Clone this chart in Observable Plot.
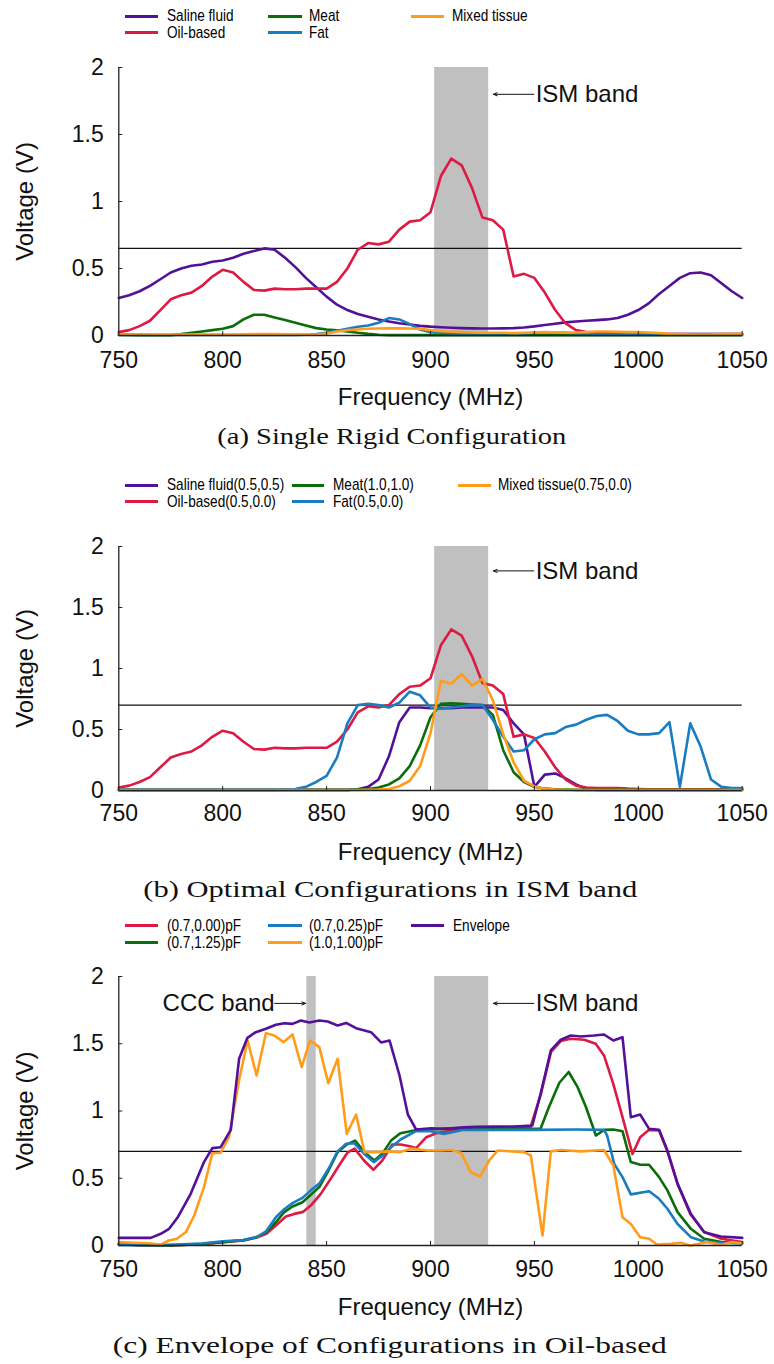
<!DOCTYPE html>
<html>
<head>
<meta charset="utf-8">
<script src="https://cdn.jsdelivr.net/npm/d3@7"></script>
<script src="https://cdn.jsdelivr.net/npm/@observablehq/plot@0.6"></script>
<style>
  html,body{margin:0;padding:0;background:#fff;}
  #root{position:relative;width:774px;height:1364px;overflow:hidden;font-family:"Liberation Sans",Arial,Helvetica,sans-serif;color:#111;}
  #root svg{position:absolute;left:0;overflow:visible;}
  .lg-text{position:absolute;line-height:14px;height:14px;white-space:nowrap;transform-origin:0 50%;color:#000;}
  .cap{position:absolute;font-family:"Liberation Serif","Times New Roman",serif;font-size:23px;line-height:26px;white-space:nowrap;transform-origin:50% 50%;color:#111;}
</style>
</head>
<body>
<div id="root"></div>
<script>
// ---------------- DATA ----------------
// Sample frequencies (MHz) for panels (a) and (b)
const freq = [750,755,760,765,770,775,780,785,790,795,
  800,805,810,815,820,825,830,835,840,845,
  850,855,860,865,870,875,880,885,890,895,
  900,905,910,915,920,925,930,935,940,945,
  950,955,960,965,970,975,980,985,990,995,
  1000,1005,1010,1015,1020,1025,1030,1035,1040,1045,
  1050];

// (a) Single Rigid Configuration — voltage (V)
const salineA = [0.28,0.30,0.33,0.37,0.42,0.47,0.50,0.52,0.53,0.55,
  0.56,0.58,0.61,0.63,0.65,0.64,0.58,0.51,0.43,0.36,
  0.29,0.23,0.19,0.16,0.14,0.12,0.105,0.092,0.082,0.072,
  0.066,0.062,0.058,0.055,0.053,0.052,0.052,0.053,0.055,0.06,
  0.068,0.078,0.088,0.098,0.105,0.11,0.115,0.12,0.13,0.155,
  0.19,0.24,0.31,0.37,0.43,0.465,0.47,0.45,0.39,0.33,
  0.28];
const oilA = [0.025,0.04,0.07,0.11,0.19,0.27,0.30,0.32,0.37,0.44,
  0.49,0.47,0.40,0.34,0.335,0.35,0.345,0.345,0.35,0.35,
  0.35,0.40,0.50,0.64,0.69,0.68,0.70,0.79,0.85,0.86,
  0.92,1.19,1.32,1.27,1.10,0.88,0.86,0.79,0.44,0.46,
  0.43,0.32,0.19,0.09,0.04,0.025,0.02,0.02,0.02,0.015,
  0.012,0.01,0.01,0.01,0.01,0.01,0.01,0.01,0.01,0.01,
  0.01];
const meatA = [0.005,0.005,0.003,0.002,0.002,0.003,0.01,0.02,0.03,0.04,
  0.05,0.07,0.12,0.155,0.155,0.135,0.115,0.095,0.075,0.055,
  0.045,0.038,0.03,0.02,0.012,0.006,0.003,0.003,0.003,0.003,
  0.003,0.003,0.003,0.003,0.003,0.003,0.003,0.003,0.003,0.003,
  0.003,0.003,0.003,0.003,0.003,0.003,0.003,0.003,0.003,0.003,
  0.003,0.003,0.003,0.003,0.003,0.003,0.003,0.003,0.003,0.003,
  0.003];
const fatA = [0.006,0.005,0.005,0.005,0.004,0.004,0.004,0.004,0.004,0.004,
  0.004,0.004,0.004,0.004,0.004,0.004,0.004,0.005,0.006,0.01,
  0.02,0.035,0.05,0.065,0.075,0.095,0.13,0.12,0.085,0.045,
  0.025,0.02,0.016,0.015,0.015,0.015,0.015,0.015,0.015,0.015,
  0.02,0.02,0.02,0.02,0.015,0.015,0.012,0.01,0.01,0.01,
  0.01,0.01,0.01,0.01,0.01,0.01,0.01,0.01,0.01,0.01,
  0.01];
const mixedA = [0.008,0.008,0.008,0.008,0.008,0.008,0.008,0.008,0.008,0.008,
  0.008,0.008,0.009,0.01,0.01,0.01,0.009,0.008,0.008,0.008,
  0.015,0.03,0.04,0.045,0.05,0.052,0.053,0.053,0.052,0.05,
  0.04,0.032,0.028,0.025,0.022,0.02,0.02,0.02,0.018,0.02,
  0.022,0.025,0.022,0.02,0.022,0.025,0.03,0.03,0.028,0.025,
  0.025,0.022,0.018,0.012,0.01,0.008,0.008,0.008,0.01,0.01,
  0.012];

// (b) Optimal Configurations in ISM band — voltage (V)
const salineB = [0.005,0.005,0.005,0.005,0.005,0.005,0.005,0.005,0.005,0.005,
  0.005,0.005,0.005,0.005,0.005,0.005,0.005,0.005,0.005,0.005,
  0.005,0.005,0.005,0.01,0.03,0.09,0.28,0.56,0.68,0.68,
  0.675,0.675,0.675,0.68,0.68,0.68,0.68,0.66,0.55,0.46,
  0.03,0.13,0.14,0.10,0.05,0.012,0.005,0.005,0.005,0.005,
  0.005,0.005,0.005,0.005,0.005,0.005,0.005,0.005,0.005,0.005,
  0.005];
const oilB = [0.025,0.04,0.07,0.11,0.19,0.27,0.30,0.32,0.37,0.44,
  0.49,0.47,0.40,0.34,0.335,0.35,0.345,0.345,0.35,0.35,
  0.35,0.40,0.50,0.64,0.69,0.68,0.70,0.79,0.85,0.86,
  0.92,1.19,1.32,1.27,1.10,0.88,0.86,0.79,0.44,0.46,
  0.43,0.32,0.19,0.09,0.04,0.025,0.02,0.02,0.02,0.015,
  0.012,0.01,0.01,0.01,0.01,0.01,0.01,0.01,0.01,0.01,
  0.01];
const meatB = [0.005,0.005,0.005,0.005,0.005,0.005,0.005,0.005,0.005,0.005,
  0.005,0.005,0.005,0.005,0.005,0.005,0.005,0.005,0.005,0.005,
  0.005,0.005,0.005,0.008,0.012,0.025,0.05,0.10,0.20,0.37,
  0.60,0.71,0.715,0.71,0.705,0.70,0.62,0.33,0.15,0.07,
  0.03,0.015,0.01,0.008,0.005,0.005,0.005,0.005,0.005,0.005,
  0.005,0.005,0.005,0.005,0.005,0.005,0.005,0.005,0.005,0.005,
  0.005];
const fatB = [0.005,0.005,0.005,0.005,0.005,0.005,0.005,0.005,0.005,0.005,
  0.005,0.005,0.005,0.005,0.005,0.005,0.008,0.012,0.03,0.07,
  0.12,0.27,0.55,0.70,0.71,0.70,0.68,0.72,0.81,0.78,
  0.68,0.67,0.68,0.69,0.70,0.70,0.58,0.44,0.32,0.33,
  0.42,0.46,0.47,0.52,0.54,0.58,0.61,0.62,0.57,0.49,
  0.46,0.46,0.47,0.56,0.03,0.55,0.36,0.09,0.03,0.02,
  0.02];
const mixedB = [0.004,0.004,0.004,0.004,0.004,0.004,0.004,0.004,0.004,0.004,
  0.004,0.004,0.004,0.004,0.004,0.004,0.004,0.004,0.004,0.004,
  0.004,0.004,0.004,0.004,0.006,0.008,0.012,0.035,0.08,0.20,
  0.47,0.90,0.875,0.955,0.86,0.915,0.74,0.46,0.23,0.08,
  0.033,0.014,0.008,0.005,0.004,0.004,0.004,0.004,0.004,0.004,
  0.004,0.004,0.004,0.004,0.004,0.004,0.004,0.004,0.004,0.004,
  0.004];

// (c) Envelope of Configurations in Oil-based — [frequency (MHz), voltage (V)]
const red000C = [[750,0.012],[760,0.002],[775,0.0],[790,0.01],[800,0.025],[810,0.037],[817,0.062],[821,0.087],[825.6,0.149],[830.4,0.216],[834.4,0.235],[838.4,0.248],[842.4,0.297],[847.2,0.384],[852,0.496],[856,0.595],[860,0.69],[863.5,0.72],[868,0.632],[872.5,0.563],[876.8,0.632],[881.6,0.751],[885.6,0.751],[889.5,0.74],[893.1,0.724],[898,0.805],[902.8,0.835],[909.8,0.855],[916,0.865],[925,0.87],[935,0.87],[948,0.875],[953,1.12],[958,1.44],[962.7,1.52],[967.5,1.537],[974,1.53],[979.5,1.50],[983.5,1.413],[988,1.20],[992.4,0.954],[997.2,0.68],[1000.9,0.805],[1005.2,0.86],[1010,0.855],[1014,0.70],[1019,0.455],[1025,0.235],[1031.7,0.10],[1040,0.05],[1050,0.025]];
const green125C = [[750,0.01],[760,0.003],[775,0.0],[790,0.012],[800,0.025],[810,0.04],[816,0.06],[821,0.10],[825.6,0.173],[829.6,0.248],[833.6,0.29],[838.4,0.322],[842.4,0.377],[846.5,0.434],[850.5,0.545],[855.3,0.694],[859.4,0.748],[863.7,0.78],[868.2,0.694],[873,0.632],[877,0.686],[881,0.78],[885.5,0.835],[889.8,0.848],[893.8,0.86],[905,0.867],[920,0.868],[935,0.868],[953,0.87],[957,1.03],[962,1.21],[966.5,1.29],[970.8,1.177],[974.8,1.03],[979.6,0.818],[983.6,0.86],[988,0.862],[992.4,0.85],[996.4,0.62],[1001,0.60],[1005.2,0.60],[1010,0.508],[1014,0.41],[1018.9,0.248],[1025.3,0.124],[1031.7,0.05],[1040,0.025],[1050,0.017]];
const blue025C = [[750,0.005],[770,0.003],[790,0.015],[800,0.032],[810,0.04],[817,0.067],[821,0.107],[825.6,0.21],[829.6,0.27],[833.6,0.315],[838.4,0.354],[842.4,0.41],[846.5,0.46],[851.3,0.58],[855.3,0.70],[859.4,0.756],[863.4,0.76],[868.2,0.68],[872.7,0.62],[877,0.67],[881,0.73],[885.8,0.79],[893,0.85],[900,0.85],[906.5,0.83],[916,0.86],[930,0.86],[950,0.86],[970,0.862],[983.5,0.86],[985,0.818],[988.4,0.607],[992.4,0.508],[996.4,0.38],[1005.2,0.404],[1010,0.347],[1014,0.273],[1018.9,0.16],[1025.3,0.062],[1031.7,0.03],[1040,0.02],[1050,0.017]];
const orange100C = [[750,0.025],[757,0.02],[765,0.017],[770,0.005],[774,0.037],[778,0.05],[782.3,0.10],[786.3,0.223],[791,0.434],[795,0.686],[799,0.69],[803,0.805],[808,1.24],[812,1.524],[816.3,1.264],[820.8,1.579],[824.8,1.561],[829.3,1.512],[833.6,1.569],[838,1.326],[842,1.524],[846.5,1.475],[850.8,1.207],[855.3,1.388],[859.7,0.83],[864.2,0.974],[868.2,0.694],[874.6,0.694],[879.5,0.70],[885,0.694],[890.7,0.72],[898.7,0.706],[905,0.706],[909.8,0.71],[914.6,0.69],[919.4,0.545],[923.9,0.513],[928.2,0.632],[932.3,0.706],[945,0.694],[948.3,0.669],[953.9,0.074],[957.9,0.70],[962.7,0.71],[972.3,0.70],[983.5,0.71],[988,0.595],[992.4,0.21],[996.4,0.16],[1000.9,0.062],[1005.2,0.05],[1009,0.007],[1015.6,0.012],[1020.4,0.02],[1025,0.0],[1033,0.025],[1040,0.005],[1044.5,0.025],[1050,0.017]];
const envelopeC = [[750,0.057],[765.4,0.057],[770.2,0.087],[774.2,0.124],[778.2,0.206],[784.6,0.384],[791,0.62],[795,0.724],[799,0.731],[803.9,0.86],[807.9,1.388],[811.9,1.544],[815.9,1.586],[820.8,1.611],[825.6,1.641],[829.6,1.653],[833.6,1.648],[837.6,1.673],[841.7,1.658],[846.5,1.673],[850.5,1.665],[855.3,1.636],[859.4,1.655],[864.2,1.616],[871.4,1.586],[876.2,1.51],[880.3,1.524],[885.1,1.264],[889.1,0.974],[893.1,0.862],[900.3,0.872],[905,0.867],[910,0.872],[916,0.878],[922,0.882],[930,0.884],[940,0.885],[949,0.892],[953,1.128],[957.9,1.45],[962.7,1.53],[967.5,1.561],[972.3,1.554],[978.7,1.561],[983.5,1.569],[988,1.524],[992.4,1.549],[996.4,0.954],[1000.9,0.974],[1005.2,0.867],[1010,0.86],[1014,0.706],[1018.9,0.458],[1025.3,0.235],[1031.7,0.099],[1039.7,0.067],[1050,0.057]];

// Bands (MHz), threshold levels (V), annotations, ticks
const ismBand = [{from: 902, to: 928}];
const cccBand = [{from: 840.5, to: 845}];
const thresholdA = 0.65, thresholdB = 0.70, thresholdC = 0.70;
const ismNote = {text: "ISM band", x: 950.6, arrowFrom: 949.7, arrowTo: 930.3, y: 1.8};
const cccNote = {text: "CCC band", x: 825, arrowFrom: 825, arrowTo: 839.9, y: 1.8};
const xTicks = [750, 800, 850, 900, 950, 1000, 1050];
const yTicks = [0, 0.5, 1, 1.5, 2];

const labelsA = ["Saline fluid", "Oil-based", "Meat", "Fat", "Mixed tissue"];
const labelsB = ["Saline fluid(0.5,0.5)", "Oil-based(0.5,0.0)", "Meat(1.0,1.0)", "Fat(0.5,0.0)", "Mixed tissue(0.75,0.0)"];
const labelsC = ["(0.7,0.00)pF", "(0.7,1.25)pF", "(0.7,0.25)pF", "(1.0,1.00)pF", "Envelope"];
const captions = ["(a) Single Rigid Configuration", "(b) Optimal Configurations in ISM band", "(c) Envelope of Configurations in Oil-based"];

// ---------------- STYLE / LAYOUT ----------------
const COL = {purple: "#53119a", red: "#dc1a44", green: "#0a6e0a", blue: "#1a7cc1", orange: "#ff9c1a"};
const root = document.getElementById("root");
const toPairs = arr => freq.map((f, i) => [f, arr[i]]);

function panel(p) {
  const frameH = p.bottom - p.top;
  const mT = 20, mB = 95, mL = 118.3, mR = 774 - 741.7;
  const frameW = 774 - mL - mR;
  const marks = [
    Plot.rect(p.bands, {x1: "from", x2: "to", y1: () => 0, y2: () => 2, fill: "#c0c0c0"}),
    Plot.ruleY([p.threshold], {stroke: "#111", strokeWidth: 1.4}),
    ...p.series.map(s => Plot.line(s.data, {x: d => d[0], y: d => d[1], stroke: s.color, strokeWidth: 2.6, strokeLinejoin: "round", strokeLinecap: "round"})),
    Plot.ruleX([750], {stroke: "#222", strokeWidth: 1.3}),
    Plot.ruleY([0], {stroke: "#222", strokeWidth: 1.3}),
    Plot.tickX(xTicks.slice(1), {x: d => d, insetTop: frameH - 4, stroke: "#222"}),
    Plot.tickY(yTicks.slice(1), {y: d => d, insetRight: frameW - 4, stroke: "#222"}),
    Plot.axisX({ticks: xTicks, tickSize: 0, tickPadding: p.xPad, tickFormat: d => String(d), label: null, fontSize: 23}),
    Plot.axisY({ticks: yTicks, tickSize: 0, tickPadding: 15, tickFormat: d => String(d), label: null, fontSize: 23}),
    Plot.text(["Frequency (MHz)"], {text: d => d, frameAnchor: "bottom", textAnchor: "middle", lineAnchor: "middle", dy: 62, fontSize: 24}),
    Plot.text(["Voltage (V)"], {text: d => d, frameAnchor: "left", textAnchor: "middle", lineAnchor: "middle", dx: -93, rotate: -90, fontSize: 24})
  ];
  for (const n of p.notes) {
    marks.push(Plot.arrow([n], {x1: "arrowFrom", x2: "arrowTo", y1: "y", y2: "y", stroke: "#111", strokeWidth: 1, headLength: 6, headAngle: 45}));
    marks.push(Plot.text([n], {x: "x", y: "y", text: "text", textAnchor: n.anchor, fontSize: 24, fill: "#111"}));
  }
  const svg = Plot.plot({
    width: 774, height: mT + frameH + mB,
    marginTop: mT, marginBottom: mB, marginLeft: mL, marginRight: mR,
    x: {domain: [750, 1050]}, y: {domain: [0, 2]},
    style: {fontFamily: "'Liberation Sans', Arial, Helvetica, sans-serif", fontSize: "23px", background: "transparent", color: "#111"},
    marks
  });
  svg.style.top = (p.top - mT) + "px";
  root.appendChild(svg);
}

function legend(labels, colors, places, rows, cols, fontPx, sx) {
  labels.forEach((label, i) => {
    const [c, r] = places[i];
    const y = rows[r], col = cols[c];
    const sw = document.createElement("div");
    sw.style.cssText = `position:absolute;left:${col.sx}px;top:${y - 1.5}px;width:${col.sw}px;height:3px;background:${colors[i]}`;
    root.appendChild(sw);
    const t = document.createElement("div");
    t.className = "lg-text";
    t.textContent = label;
    t.style.fontSize = fontPx + "px";
    t.style.transform = `scaleX(${sx})`;
    t.style.left = col.tx + "px";
    t.style.top = (y - 7) + "px";
    root.appendChild(t);
  });
}

function caption(text, cx, cy, targetW) {
  const el = document.createElement("div");
  el.className = "cap";
  el.textContent = text;
  root.appendChild(el);
  const w = el.getBoundingClientRect().width;
  el.style.left = (cx - w / 2) + "px";
  el.style.top = (cy - 13) + "px";
  el.style.transform = `scaleX(${targetW / w})`;
}

const colorsAB = [COL.purple, COL.red, COL.green, COL.blue, COL.orange];
const placesAB = [[0, 0], [0, 1], [1, 0], [1, 1], [2, 0]];

// Panel (a)
panel({
  top: 67, bottom: 335, xPad: 16, threshold: thresholdA, bands: ismBand,
  notes: [{...ismNote, anchor: "start"}],
  series: [salineA, oilA, meatA, fatA, mixedA].map((a, i) => ({data: toPairs(a), color: colorsAB[i]}))
});
legend(labelsA, colorsAB, placesAB, [16, 32.7],
  [{sx: 125, sw: 33, tx: 167}, {sx: 268, sw: 34, tx: 309}, {sx: 411, sw: 33, tx: 452}], 17, 0.8);
caption(captions[0], 391.5, 437, 349);

// Panel (b)
panel({
  top: 546, bottom: 790, xPad: 14, threshold: thresholdB, bands: ismBand,
  notes: [{...ismNote, anchor: "start"}],
  series: [salineB, oilB, meatB, fatB, mixedB].map((a, i) => ({data: toPairs(a), color: colorsAB[i]}))
});
legend(labelsB, colorsAB, placesAB, [485, 501.7],
  [{sx: 125, sw: 33, tx: 166.7}, {sx: 291.7, sw: 32.6, tx: 332.7}, {sx: 457.7, sw: 33.3, tx: 498.3}], 17, 0.8);
caption(captions[1], 390, 890, 494);

// Panel (c)
const colorsC = [COL.red, COL.green, COL.blue, COL.orange, COL.purple];
panel({
  top: 976, bottom: 1245, xPad: 15, threshold: thresholdC, bands: [...ismBand, ...cccBand],
  notes: [{...ismNote, anchor: "start"}, {...cccNote, anchor: "end"}],
  series: [red000C, green125C, blue025C, orange100C, envelopeC].map((d, i) => ({data: d, color: colorsC[i]}))
});
legend(labelsC, colorsC, placesAB, [925.8, 942.5],
  [{sx: 125, sw: 33, tx: 166.7}, {sx: 267.7, sw: 34, tx: 309.3}, {sx: 411, sw: 33, tx: 452.7}], 16, 0.85);
caption(captions[2], 390, 1346, 554);
</script>
</body>
</html>
